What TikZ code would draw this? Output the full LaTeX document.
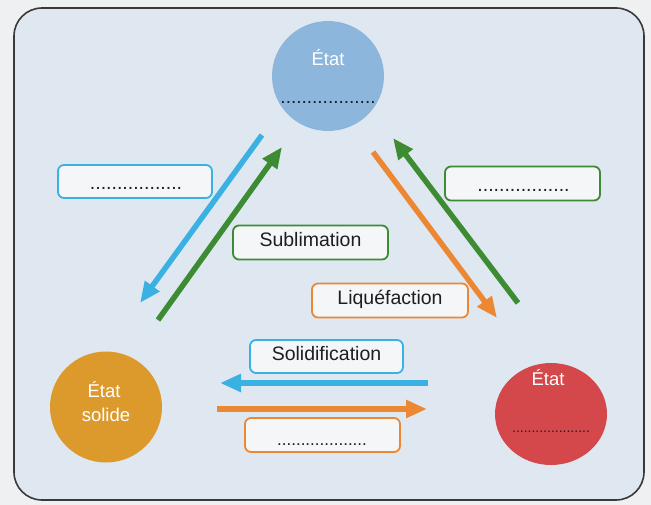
\documentclass[tikz,border=0pt]{standalone}
\usepackage{fontspec}
\setmainfont{Liberation Sans}
\usetikzlibrary{arrows.meta,shapes.geometric}
\definecolor{pagebg}{HTML}{EEF0F1}
\definecolor{panelbg}{HTML}{DFE8F1}
\definecolor{panelline}{HTML}{3A3A3A}
\definecolor{cblue}{HTML}{3BB0E3}
\definecolor{cgreen}{HTML}{3D8B33}
\definecolor{corange}{HTML}{EC8733}
\definecolor{boxfill}{HTML}{F4F6F8}
\definecolor{topfill}{HTML}{8CB6DB}
\definecolor{solfill}{HTML}{DC9A2D}
\definecolor{liqfill}{HTML}{D4474A}
\definecolor{txt}{HTML}{1E1E1E}
\tikzset{
  x=1pt, y=-1pt,
  statenode/.style={ellipse, inner sep=0pt, draw=none},
  labelbox/.style={rectangle, rounded corners=6pt, line width=1.8pt, fill=boxfill,
    minimum width=155pt, minimum height=34pt, inner sep=0pt, text=txt,
    font=\fontsize{19.5}{22}\selectfont},
  dotsfont/.style={font=\fontsize{19.5}{22}\selectfont, text=txt, anchor=base, inner sep=0pt},
  statetext/.style={font=\fontsize{18.5}{21}\selectfont, text=white, inner sep=0pt},
  bigarrow/.style={line width=5.5pt, -{Triangle[length=21pt,width=17pt]}},
}
\begin{document}
\begin{tikzpicture}
\useasboundingbox (0,0) rectangle (651,505);
\fill[pagebg] (0,0) rectangle (651,505);
\draw[panelline, line width=1.6pt, fill=panelbg, rounded corners=28pt] (14,8) rectangle (644,500);

% states
\node[statenode, fill=topfill, minimum width=112pt, minimum height=110pt] (gas) at (328,76) {};
\node[statenode, fill=solfill, minimum width=112pt, minimum height=111pt] (solid) at (106,407) {};
\node[statenode, fill=liqfill, minimum width=112pt, minimum height=102pt] (liquid) at (551,414) {};

\node[statetext] (gasT) at (328,58) {État};
\node[dotsfont, font=\fontsize{19}{22}\selectfont] (gasD) at (328,104) {..................};
\node[statetext] (solT) at (104,390) {État};
\node[statetext] (solS) at (106,415) {solide};
\node[statetext] (liqT) at (548,378) {État};
\node[dotsfont, font=\fontsize{14}{16}\selectfont] (liqD) at (551,432) {....................};

% label boxes
\node[labelbox, draw=cblue, minimum width=154pt, minimum height=33pt] (bBlue) at (135,181.5) {};
\node[dotsfont] (bBlueD) at (136,190) {.................};
\node[labelbox, draw=cgreen] (bSub) at (310.5,242.5) {\strut Sublimation};
\node[labelbox, draw=cgreen] (bGreen) at (522.5,183.5) {};
\node[dotsfont] (bGreenD) at (523.5,192) {.................};
\node[labelbox, draw=corange, minimum width=156pt] (bLiq) at (390,300.5) {\strut Liquéfaction};
\node[labelbox, draw=cblue, minimum width=153pt, minimum height=33pt] (bSol) at (326.5,356.5) {\strut Solidification};
\node[labelbox, draw=corange] (bOrange) at (322.5,435) {};
\node[dotsfont, font=\fontsize{17}{20}\selectfont] (bOrangeD) at (322,445) {...................};

% arrow end points
\coordinate (a1s) at (262,135); \coordinate (a1e) at (140,303);
\coordinate (a2s) at (158,320); \coordinate (a2e) at (282,147);
\coordinate (a3s) at (373,152); \coordinate (a3e) at (497,318);
\coordinate (a4s) at (518,303); \coordinate (a4e) at (393,138);
\coordinate (a5s) at (428,383); \coordinate (a5e) at (220,383);
\coordinate (a6s) at (217,409); \coordinate (a6e) at (427,409);

\draw[bigarrow, cblue] (a1s) -- (a1e);
\draw[bigarrow, cgreen] (a2s) -- (a2e);
\draw[bigarrow, corange] (a3s) -- (a3e);
\draw[bigarrow, cgreen] (a4s) -- (a4e);
\draw[bigarrow, cblue] (a5s) -- (a5e);
\draw[bigarrow, corange] (a6s) -- (a6e);
\end{tikzpicture}
\end{document}
